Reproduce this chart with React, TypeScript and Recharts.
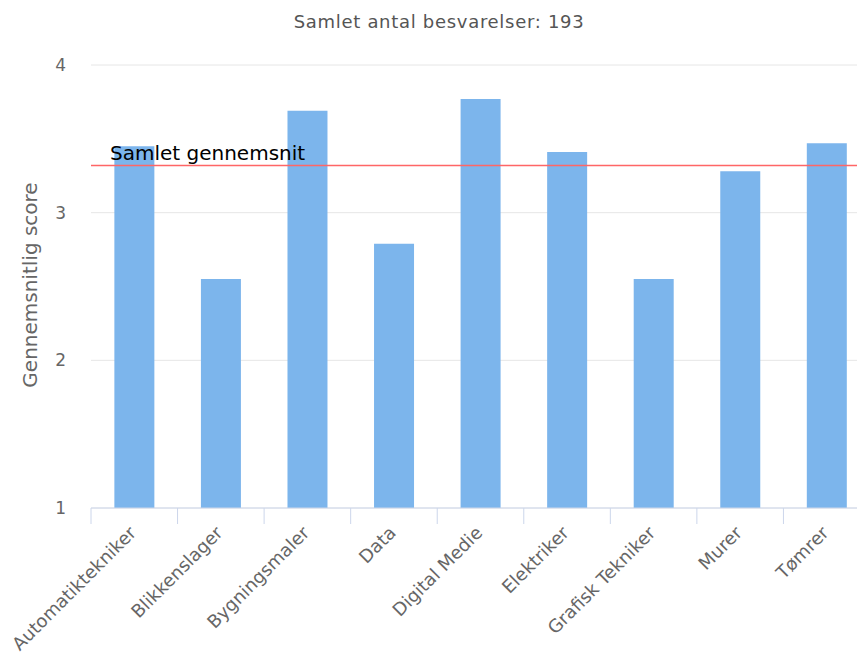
import { BarChart, Bar, XAxis, YAxis, CartesianGrid, ReferenceLine } from "recharts"

const categories = [
  "Automatiktekniker",
  "Blikkenslager",
  "Bygningsmaler",
  "Data",
  "Digital Medie",
  "Elektriker",
  "Grafisk Tekniker",
  "Murer",
  "Tømrer",
]
const scores = [3.45, 2.55, 3.69, 2.79, 3.77, 3.41, 2.55, 3.28, 3.47]
const yTicks = [1, 2, 3, 4]
const overallAverage = 3.32
const title = "Samlet antal besvarelser: 193"
const yLabel = "Gennemsnitlig score"
const refLabel = "Samlet gennemsnit"

const data = categories.map((name, i) => ({ name, score: scores[i] }))

const font = "'DejaVu Sans', sans-serif"

const XTick = (props: any) => {
  const { x, y, payload, width } = props
  const band = width ? width / categories.length : 86.5
  const left = x - band / 2
  const tx = x + 3
  const ty = y + 26
  return (
    <g>
      <line x1={left} y1={y} x2={left} y2={y + 16} stroke="#ccd6eb" />
      <text
        x={tx}
        y={ty}
        transform={`rotate(-45 ${tx} ${ty})`}
        textAnchor="end"
        fill="#666"
        fontSize={18}
        fontFamily={font}
      >
        {payload.value}
      </text>
    </g>
  )
}

const RefLabel = () => (
  <text x={102} y={152} fill="#000" fontSize={20} fontFamily={font}>
    {refLabel}
  </text>
)

export default function App() {
  return (
    <div style={{ position: "relative", width: 857, height: 649, overflow: "hidden" }}>
      <div
        style={{
          position: "absolute",
          left: 0,
          top: 3,
          width: 862,
          textAlign: "center",
          fontFamily: font,
          fontSize: 18,
          letterSpacing: 0.7,
          color: "#555",
        }}
      >
        {title}
      </div>
      <svg style={{ position: "absolute", left: 0, top: 0 }} width={60} height={649}>
        <text
          x={29}
          y={277}
          transform="rotate(-90 29 277)"
          textAnchor="middle"
          fill="#666"
          fontSize={20}
          fontFamily={font}
        >
          {yLabel}
        </text>
      </svg>
      <div style={{ position: "absolute", left: 0, top: 0 }}>
        <BarChart
          width={862}
          height={649}
          data={data}
          margin={{ top: 57, right: 0, left: 0, bottom: 0 }}
          barCategoryGap="27%"
        >
          <CartesianGrid vertical={false} stroke="#e6e6e6" />
          <XAxis
            dataKey="name"
            interval={0}
            height={149}
            stroke="#ccd6eb"
            tickLine={false}
            tickSize={0}
            tickMargin={0}
            tick={<XTick />}
          />
          <YAxis
            width={83}
            domain={[1, 4]}
            ticks={yTicks}
            axisLine={false}
            tickLine={false}
            tickSize={0}
            tickMargin={25}
            tick={{ fill: "#666", fontSize: 17, fontFamily: font }}
            allowDataOverflow
          />
          <Bar dataKey="score" fill="#7cb5ec" isAnimationActive={false} />
          <ReferenceLine y={overallAverage} stroke="#ff6666" strokeWidth={1.5} label={<RefLabel />} />
        </BarChart>
      </div>
    </div>
  )
}
